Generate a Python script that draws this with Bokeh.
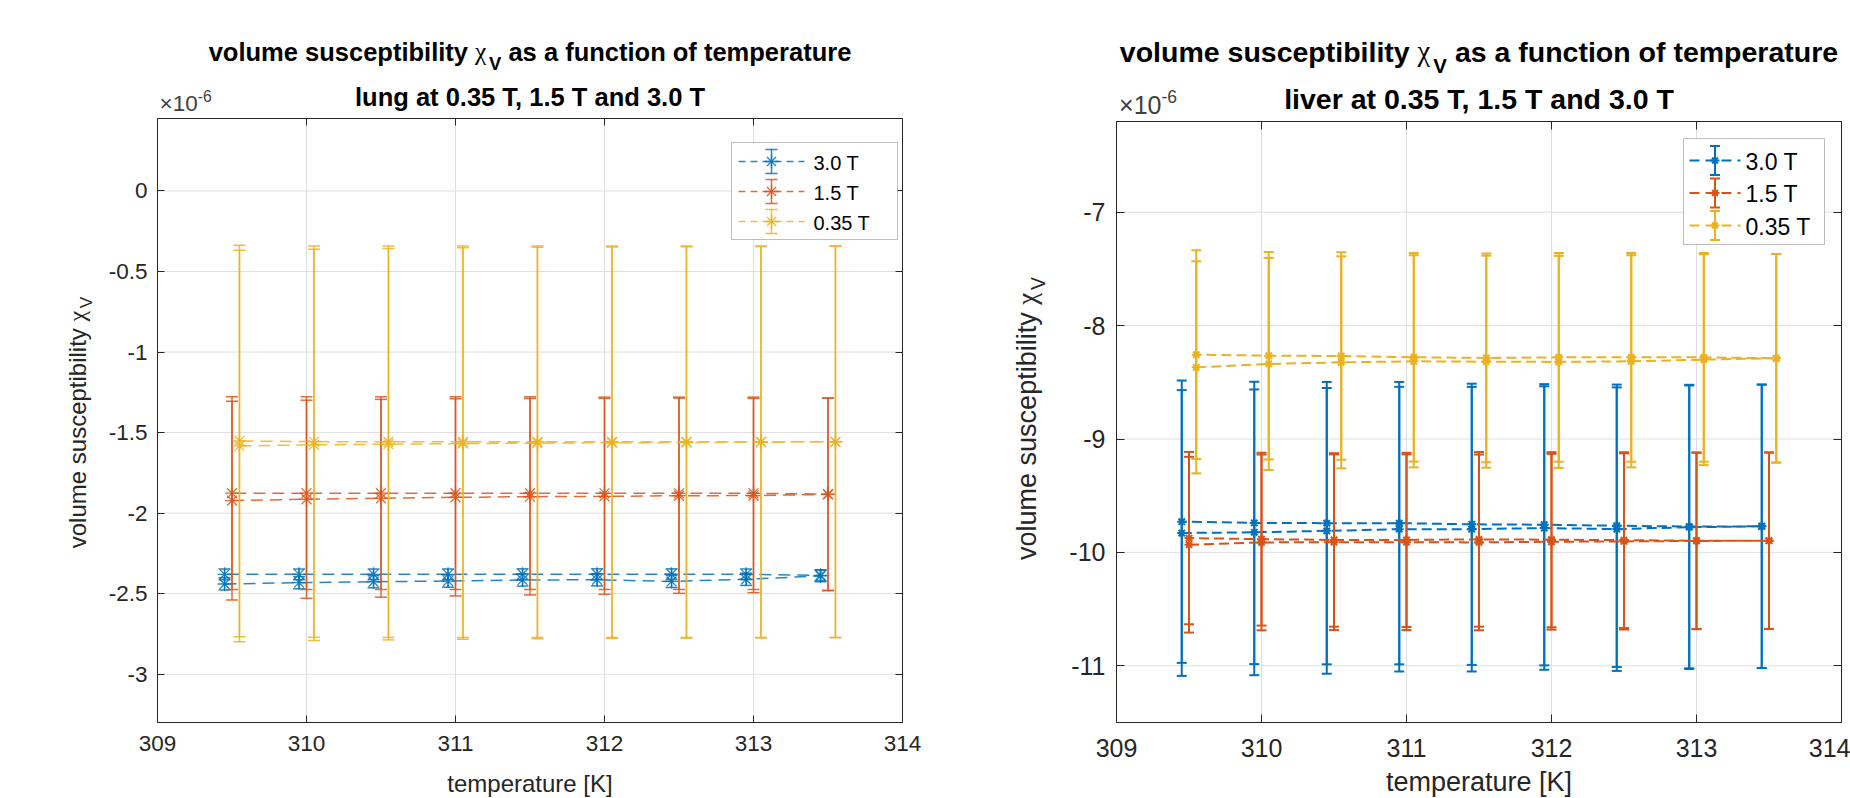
import math
from bokeh.plotting import figure
from bokeh.models import (ColumnDataSource, FixedTicker, LinearAxis, Range1d, Label,
                          Arrow, BoxAnnotation, CustomJSTickFormatter)
from bokeh.layouts import row
from bokeh.embed import file_html
from bokeh.resources import INLINE

# ---------------- data (volume susceptibility in units of 1e-6) ----------------
temps_3_0T = [309.45, 309.95, 310.45, 310.95, 311.45, 311.95, 312.45, 312.95, 313.45]
temps_1_5T = [309.50, 310.00, 310.50, 311.00, 311.50, 312.00, 312.50, 313.00, 313.50]
temps_0_35T = [309.55, 310.05, 310.55, 311.05, 311.55, 312.05, 312.55, 313.05, 313.55]
field_labels = ["3.0 T", "1.5 T", "0.35 T"]

x_limits = (309, 314)
x_ticks = [309, 310, 311, 312, 313, 314]
x_tick_labels = ["309", "310", "311", "312", "313", "314"]

# lung: sweep a (forward) and sweep b (return), with error values
lung_3_0T_a = [-2.440, -2.432, -2.426, -2.422, -2.415, -2.414, -2.424, -2.411, -2.390]
lung_3_0T_b = [-2.380, -2.380, -2.380, -2.380, -2.379, -2.379, -2.379, -2.380, -2.386]
lung_3_0T_err_a = [0.038, 0.038, 0.038, 0.038, 0.038, 0.038, 0.038, 0.038, 0.036]
lung_3_0T_err_b = [0.033, 0.033, 0.033, 0.033, 0.033, 0.033, 0.033, 0.033, 0.034]

lung_1_5T_a = [-1.922, -1.914, -1.908, -1.902, -1.898, -1.896, -1.892, -1.891, -1.884]
lung_1_5T_b = [-1.876, -1.876, -1.876, -1.876, -1.876, -1.877, -1.877, -1.877, -1.882]
lung_1_5T_err_a = [0.617, 0.615, 0.614, 0.612, 0.610, 0.608, 0.606, 0.603, 0.598]
lung_1_5T_err_b = [0.598, 0.598, 0.598, 0.598, 0.598, 0.597, 0.597, 0.597, 0.597]

lung_0_35T_a = [-1.583, -1.576, -1.572, -1.568, -1.565, -1.563, -1.562, -1.560, -1.558]
lung_0_35T_b = [-1.552, -1.556, -1.557, -1.557, -1.557, -1.557, -1.557, -1.557, -1.557]
lung_0_35T_err_a = [1.215, 1.215, 1.215, 1.215, 1.215, 1.215, 1.215, 1.215, 1.215]
lung_0_35T_err_b = [1.215, 1.215, 1.215, 1.215, 1.215, 1.215, 1.215, 1.215, 1.215]

lung_y_limits = (-3.3, 0.45)
lung_y_ticks = [-3.0, -2.5, -2.0, -1.5, -1.0, -0.5, 0.0]
lung_y_tick_labels = ["-3", "-2.5", "-2", "-1.5", "-1", "-0.5", "0"]

# liver
liver_3_0T_a = [-9.829, -9.823, -9.810, -9.795, -9.795, -9.785, -9.795, -9.778, -9.770]
liver_3_0T_b = [-9.729, -9.740, -9.742, -9.742, -9.752, -9.756, -9.765, -9.772, -9.770]
liver_3_0T_err_a = [1.26, 1.26, 1.26, 1.255, 1.255, 1.25, 1.25, 1.25, 1.25]
liver_3_0T_err_b = [1.245, 1.245, 1.245, 1.245, 1.24, 1.24, 1.245, 1.25, 1.25]

liver_1_5T_a = [-9.932, -9.912, -9.910, -9.910, -9.912, -9.906, -9.903, -9.899, -9.897]
liver_1_5T_b = [-9.874, -9.883, -9.890, -9.890, -9.885, -9.888, -9.892, -9.897, -9.897]
liver_1_5T_err_a = [0.775, 0.775, 0.775, 0.775, 0.775, 0.775, 0.777, 0.778, 0.778]
liver_1_5T_err_b = [0.760, 0.762, 0.765, 0.768, 0.770, 0.772, 0.775, 0.778, 0.778]

liver_0_35T_a = [-8.368, -8.338, -8.324, -8.315, -8.318, -8.320, -8.315, -8.300, -8.288]
liver_0_35T_b = [-8.256, -8.265, -8.268, -8.279, -8.285, -8.280, -8.280, -8.280, -8.288]
liver_0_35T_err_a = [0.935, 0.935, 0.935, 0.935, 0.935, 0.935, 0.935, 0.93, 0.92]
liver_0_35T_err_b = [0.92, 0.915, 0.915, 0.92, 0.92, 0.92, 0.92, 0.92, 0.92]

liver_y_limits = (-11.5, -6.2)
liver_y_ticks = [-11.0, -10.0, -9.0, -8.0, -7.0]
liver_y_tick_labels = ["-11", "-10", "-9", "-8", "-7"]

# ---------------- styling ----------------
COLORS = ["#0072BD", "#D95319", "#EDB120"]
AX_COL = "#262626"
GRID_COL = "#dfdfdf"
SANS = "Liberation Sans"
SERIF = "Liberation Serif"
TEXT_DROP = 0.3   # empirical correction of Label baseline placement (in em)

REG_W = {' ': 278, 'a': 556, 'b': 556, 'c': 500, 'd': 556, 'e': 556, 'f': 278, 'g': 556,
         'h': 556, 'i': 222, 'l': 222, 'm': 833, 'n': 556, 'o': 556, 'p': 556, 'r': 333,
         's': 500, 't': 278, 'u': 556, 'v': 500, 'y': 500, 'V': 667, 'T': 611, 'K': 667,
         '[': 278, ']': 278, '.': 278, ',': 278, '-': 333, '\u00d7': 584}
BOLD_W = {' ': 278, 'a': 556, 'b': 611, 'c': 556, 'd': 611, 'e': 556, 'f': 333, 'g': 611,
          'h': 611, 'i': 278, 'l': 278, 'm': 889, 'n': 611, 'o': 611, 'p': 611, 'r': 389,
          's': 556, 't': 333, 'u': 611, 'v': 556, 'y': 556, 'V': 667, 'T': 611,
          '.': 278, ',': 278, '-': 333}

LOOKUP_JS = ("const i = tvals.findIndex((t) => Math.abs(t - tick) < 1e-6); "
             "return i >= 0 ? tlabels[i] : '';")

PAGE_H = 798


def tw(s, size, bold=False):
    t = BOLD_W if bold else REG_W
    return sum(t.get(c, 556) for c in s) / 1000.0 * size


def build_panel(spec, series):
    x0p = spec["origin"]
    W = spec["width"]
    H = PAGE_H
    fl, fr, ft, fb = spec["box"]          # page position of the axes box
    xl0, xl1 = x_limits
    yl0, yl1 = spec["ylim"]
    kx = (fr - fl) / float(xl1 - xl0)
    ky = (fb - ft) / float(yl1 - yl0)
    xr = Range1d(xl0 - (fl - x0p) / kx, xl1 + (x0p + W - fr) / kx)
    yr = Range1d(yl0 - (H - fb) / ky, yl1 + ft / ky)

    p = figure(width=W, height=H, title=None, x_range=xr, y_range=yr,
               x_axis_type=None, y_axis_type=None,
               output_backend="svg", toolbar_location=None,
               min_border_left=0, min_border_right=0, min_border_top=0, min_border_bottom=0)
    p.toolbar.logo = None
    p.background_fill_color = "white"
    p.border_fill_color = "white"
    p.outline_line_color = None

    base = spec["base"]
    yticks = spec["yticks"]

    # ---- grid (from tick lists) ----
    p.segment(x0=x_ticks, y0=[yl0] * len(x_ticks), x1=x_ticks, y1=[yl1] * len(x_ticks),
              line_color=GRID_COL, line_width=1)
    p.segment(x0=[xl0] * len(yticks), y0=yticks, x1=[xl1] * len(yticks), y1=yticks,
              line_color=GRID_COL, line_width=1)

    # ---- axes (box) ----
    xt = FixedTicker(ticks=x_ticks)
    yt = FixedTicker(ticks=yticks)
    fx = CustomJSTickFormatter(args=dict(tvals=x_ticks, tlabels=x_tick_labels), code=LOOKUP_JS)
    fy = CustomJSTickFormatter(args=dict(tvals=yticks, tlabels=spec["ylabels"]), code=LOOKUP_JS)
    empty = CustomJSTickFormatter(code="return '';")
    ax_b = LinearAxis(ticker=xt, formatter=fx, fixed_location=yl0, bounds=(xl0, xl1),
                      major_label_standoff=spec["xstandoff"])
    ax_t = LinearAxis(ticker=xt, formatter=empty, fixed_location=yl1, bounds=(xl0, xl1),
                      major_label_standoff=0)
    ax_l = LinearAxis(ticker=yt, formatter=fy, fixed_location=xl0, bounds=(yl0, yl1),
                      major_label_standoff=spec["ystandoff"])
    ax_r = LinearAxis(ticker=yt, formatter=empty, fixed_location=xl1, bounds=(yl0, yl1),
                      major_label_standoff=0)
    for ax in (ax_b, ax_t, ax_l, ax_r):
        ax.axis_line_color = AX_COL
        ax.axis_line_width = 1
        ax.major_tick_line_color = AX_COL
        ax.major_tick_in = spec["tick_len"]
        ax.major_tick_out = 0
        ax.minor_tick_line_color = None
        ax.major_label_text_font = SANS
        ax.major_label_text_font_size = f"{base}px"
        ax.major_label_text_color = AX_COL
    p.add_layout(ax_b, "below")
    p.add_layout(ax_t, "above")
    p.add_layout(ax_l, "left")
    p.add_layout(ax_r, "right")

    # ---- series ----
    alpha = spec["alpha"]
    for k, (temps, a, b, ea, eb) in enumerate(series):
        col = COLORS[k]
        p.line(temps + temps[::-1], a + b[::-1], line_color=col, line_alpha=alpha,
               line_width=spec["lw"], line_dash=spec["dash"])
        xs = temps + temps
        ys = a + b
        es = ea + eb
        src = ColumnDataSource(dict(x=xs, y=ys,
                                    lo=[y - e for y, e in zip(ys, es)],
                                    hi=[y + e for y, e in zip(ys, es)]))
        p.segment(x0="x", y0="lo", x1="x", y1="hi", source=src,
                  line_color=col, line_alpha=alpha, line_width=spec["bw"])
        p.scatter(x="x", y="lo", marker="dash", size=spec["cap"], source=src,
                  line_color=col, line_alpha=alpha, line_width=spec["bw"])
        p.scatter(x="x", y="hi", marker="dash", size=spec["cap"], source=src,
                  line_color=col, line_alpha=alpha, line_width=spec["bw"])
        p.scatter(x="x", y="y", marker="asterisk", size=spec["ms"], source=src,
                  line_color=col, line_alpha=alpha, line_width=spec["mlw"])

    # ---- text helpers (page coords -> screen coords of this canvas) ----
    def lab(X, Y, text, size, font=SANS, style="normal", color="#000000", angle=0.0,
            align="left", level="annotation"):
        if angle == 0.0:
            Y = Y - TEXT_DROP * size
        else:
            X = X - TEXT_DROP * size
        p.add_layout(Label(x=X - x0p, y=H - Y, x_units="screen", y_units="screen",
                           text=text, text_font=font, text_font_size=f"{size}px",
                           text_font_style=style, text_color=color, angle=angle,
                           text_align=align, text_baseline="alphabetic", level=level))

    def seg(X0, Y0, X1, Y1, col, lw, dash="solid"):
        p.add_layout(Arrow(end=None, start=None, x_start=X0 - x0p, y_start=H - Y0,
                           x_end=X1 - x0p, y_end=H - Y1, start_units="screen",
                           end_units="screen", line_color=col, line_alpha=alpha,
                           line_width=lw, line_dash=dash, level="overlay"))

    # ---- title (two lines, first with chi_V) ----
    ts = spec["title_size"]
    cx = (fl + fr) / 2.0
    s1 = "volume susceptibility"
    s4 = "as a function of temperature"
    sub_size = ts * 0.72
    w1 = tw(s1, ts, True)
    sp = 0.278 * ts
    wchi = 0.55 * ts
    wv = 0.667 * sub_size
    w4 = tw(s4, ts, True)
    total = w1 + sp + wchi + wv + sp + w4
    X = cx - total / 2.0
    Yb = spec["title1_base"]
    lab(X, Yb, s1, ts, style="bold")
    X += w1 + sp
    lab(X, Yb, "\u03c7", ts, font=SERIF)
    X += wchi
    lab(X, Yb + spec["sub_drop"], "V", sub_size, style="bold")
    X += wv + sp
    lab(X, Yb, s4, ts, style="bold")
    lab(cx, spec["title2_base"], spec["subtitle"], ts, style="bold", align="center")

    # ---- exponent label ----
    ex, eyb = spec["exp_pos"]
    lab(ex, eyb, "\u00d710", base, color="#404040")
    lab(ex + tw("\u00d710", base), eyb - 0.45 * base, "-6", base * 0.7, color="#404040")

    # ---- x label ----
    ls = spec["label_size"]
    lab(cx, spec["xlabel_base"], "temperature [K]", ls, color=AX_COL, align="center")

    # ---- y label (rotated, with chi_V) ----
    s1y = "volume susceptibility"
    ysub = ls * 0.72
    w1y = tw(s1y, ls)
    spy = 0.278 * ls
    wchiy = 0.55 * ls
    wvy = 0.667 * ysub
    tot_y = w1y + spy + wchiy + wvy
    cy = spec["ylabel_center_y"]
    bx = spec["ylabel_base_x"]
    Ystart = cy + tot_y / 2.0
    lab(bx, Ystart, s1y, ls, color=AX_COL, angle=math.pi / 2)
    lab(bx, Ystart - w1y - spy, "\u03c7", ls, font=SERIF, color=AX_COL, angle=math.pi / 2)
    lab(bx + spec["ysub_shift"], Ystart - w1y - spy - wchiy, "V", ysub, color=AX_COL,
        angle=math.pi / 2)

    # ---- legend ----
    L, R, T, B = spec["leg_box"]
    p.add_layout(BoxAnnotation(left=L - x0p, right=R - x0p, top=H - T, bottom=H - B,
                               left_units="screen", right_units="screen",
                               top_units="screen", bottom_units="screen",
                               fill_color="white", fill_alpha=1.0,
                               line_color=AX_COL, line_width=1, level="overlay"))
    ix0, ix1 = spec["leg_icon"]
    icx = (ix0 + ix1) / 2.0
    for k, name in enumerate(field_labels):
        col = COLORS[k]
        ry = spec["leg_rows"][k]
        seg(ix0, ry, ix1, ry, col, spec["lw"], spec["leg_dash"])
        hb = spec["leg_bar"]
        seg(icx, ry - hb, icx, ry + hb, col, spec["bw"])
        hc = spec["cap"] / 2.0
        seg(icx - hc, ry - hb, icx + hc, ry - hb, col, spec["bw"])
        seg(icx - hc, ry + hb, icx + hc, ry + hb, col, spec["bw"])
        r = spec["ms"] / 2.0
        r2 = r * 0.65
        seg(icx - r, ry, icx + r, ry, col, spec["mlw"])
        seg(icx, ry - r, icx, ry + r, col, spec["mlw"])
        seg(icx - r2, ry - r2, icx + r2, ry + r2, col, spec["mlw"])
        seg(icx - r2, ry + r2, icx + r2, ry - r2, col, spec["mlw"])
        lab(spec["leg_text_x"], ry + 0.36 * spec["leg_size"], name, spec["leg_size"],
            level="overlay")
    return p


lung_series = [
    (temps_3_0T, lung_3_0T_a, lung_3_0T_b, lung_3_0T_err_a, lung_3_0T_err_b),
    (temps_1_5T, lung_1_5T_a, lung_1_5T_b, lung_1_5T_err_a, lung_1_5T_err_b),
    (temps_0_35T, lung_0_35T_a, lung_0_35T_b, lung_0_35T_err_a, lung_0_35T_err_b),
]
liver_series = [
    (temps_3_0T, liver_3_0T_a, liver_3_0T_b, liver_3_0T_err_a, liver_3_0T_err_b),
    (temps_1_5T, liver_1_5T_a, liver_1_5T_b, liver_1_5T_err_a, liver_1_5T_err_b),
    (temps_0_35T, liver_0_35T_a, liver_0_35T_b, liver_0_35T_err_a, liver_0_35T_err_b),
]

left_spec = dict(
    origin=0, width=1000, box=(157, 902, 118, 722),
    ylim=lung_y_limits, yticks=lung_y_ticks, ylabels=lung_y_tick_labels,
    base=22.5, tick_len=7, xstandoff=13, ystandoff=10, alpha=0.85,
    lw=1.5, dash="12 7", bw=1.5, cap=12, ms=14, mlw=1.3,
    title_size=25.5, sub_drop=10, title1_base=59, title2_base=104,
    subtitle="lung at 0.35 T, 1.5 T and 3.0 T",
    exp_pos=(159, 110), label_size=24, xlabel_base=790,
    ylabel_base_x=84, ylabel_center_y=422, ysub_shift=7,
    leg_box=(731, 897, 142, 239), leg_icon=(738, 804), leg_rows=[161, 191, 221],
    leg_bar=12, leg_dash="7 5", leg_text_x=813, leg_size=20,
)
right_spec = dict(
    origin=1000, width=850, box=(1116, 1841, 121, 722),
    ylim=liver_y_limits, yticks=liver_y_ticks, ylabels=liver_y_tick_labels,
    base=25, tick_len=8, xstandoff=16, ystandoff=11, alpha=1.0,
    lw=2, dash="10 5", bw=2, cap=10, ms=9, mlw=2,
    title_size=28.5, sub_drop=11, title1_base=60, title2_base=107,
    subtitle="liver at 0.35 T, 1.5 T and 3.0 T",
    exp_pos=(1118.6, 112), label_size=27, xlabel_base=790,
    ylabel_base_x=1035, ylabel_center_y=418, ysub_shift=8,
    leg_box=(1683, 1824, 138, 244), leg_icon=(1689, 1740), leg_rows=[160, 192.5, 225],
    leg_bar=14.5, leg_dash="10 6", leg_text_x=1745, leg_size=23,
)

p1 = build_panel(left_spec, lung_series)
p2 = build_panel(right_spec, liver_series)
layout = row(p1, p2)
layout.spacing = 0

open("out.html", "w").write(file_html(layout, INLINE))
